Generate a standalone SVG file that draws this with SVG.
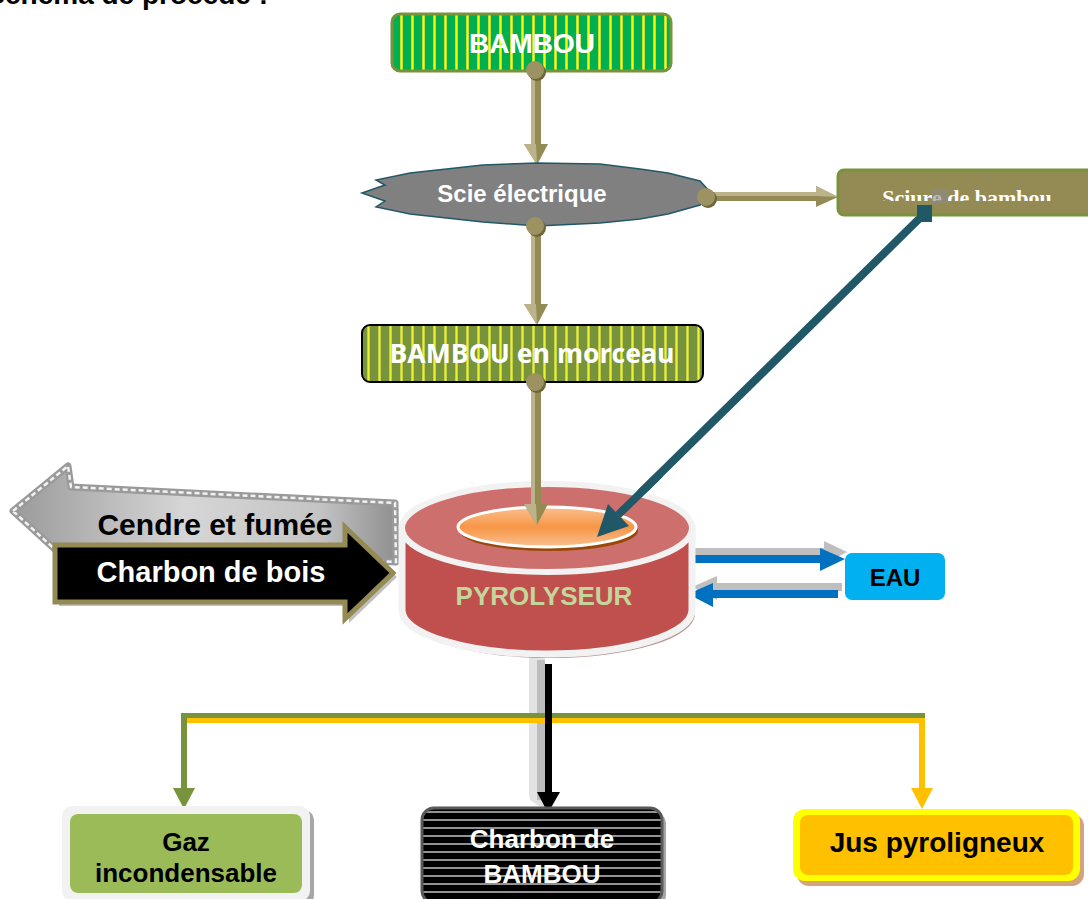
<svg xmlns="http://www.w3.org/2000/svg" width="1088" height="899" viewBox="0 0 1088 899">
  <defs>
    <style>
      .t { font-family: "Liberation Sans", Arial, sans-serif; font-weight: bold; text-anchor: middle; }
      .khaki { fill: #948a54; }
      .khaki-lt { fill: #bcb38a; }
      .knob { fill: #9c9262; }
      .knob-sh { fill: #6f6638; }
      .blue { fill: #0070c0; }
      .blue-sh { fill: #bfbfbf; }
    </style>
    <pattern id="stripeGreen" patternUnits="userSpaceOnUse" width="11" height="10">
      <rect width="11" height="10" fill="#00b050"/>
      <rect x="4" width="3" height="10" fill="#a6d33a"/>
      <rect x="4.7" width="1.6" height="10" fill="#ffff00"/>
    </pattern>
    <pattern id="stripeOlive" patternUnits="userSpaceOnUse" width="11" height="10">
      <rect width="11" height="10" fill="#77933c"/>
      <rect x="4" width="3" height="10" fill="#b2c244"/>
      <rect x="4.7" width="1.6" height="10" fill="#eef030"/>
    </pattern>
    <pattern id="stripeBlack" patternUnits="userSpaceOnUse" width="10" height="8">
      <rect width="10" height="8" fill="#000"/>
      <rect y="3" width="10" height="2" fill="#6e6e6e"/>
      <rect y="3.5" width="10" height="1" fill="#b5b5b5"/>
    </pattern>
    <linearGradient id="grayArrow" x1="0" y1="0" x2="1" y2="0">
      <stop offset="0" stop-color="#9a9a9a"/>
      <stop offset="0.45" stop-color="#d6d6d6"/>
      <stop offset="0.8" stop-color="#c4c4c4"/>
      <stop offset="1" stop-color="#8f8f8f"/>
    </linearGradient>
    <linearGradient id="orangeTop" x1="0" y1="0" x2="0" y2="1">
      <stop offset="0" stop-color="#fac090"/>
      <stop offset="0.5" stop-color="#f79646"/>
      <stop offset="1" stop-color="#fac090"/>
    </linearGradient>
    <clipPath id="sciureClip">
      <rect x="838" y="170" width="250" height="31"/>
    </clipPath>
  </defs>

  <rect width="1088" height="899" fill="#fff"/>

  <!-- heading, partly off the top edge -->
  <text x="268" y="4" font-family="Liberation Sans, Arial, sans-serif" font-weight="bold" font-size="28" text-anchor="end" fill="#000">Schéma de procédé :</text>

  <!-- connectors -->
  <g id="connectors">
    <!-- BAMBOU -> Scie -->
    <g>
      <rect x="531" y="72" width="10" height="74" class="khaki"/>
      <rect x="531" y="72" width="4" height="74" class="khaki-lt"/>
      <polygon points="524,144 548,144 537,165" class="khaki"/>
      <polygon points="524,144 536,144 537,165" class="khaki-lt"/>
    </g>
    <!-- Scie -> BAMBOU en morceau -->
    <g>
      <rect x="531" y="226" width="10" height="80" class="khaki"/>
      <rect x="531" y="226" width="4" height="80" class="khaki-lt"/>
      <polygon points="524,304 548,304 537,325" class="khaki"/>
      <polygon points="524,304 536,304 537,325" class="khaki-lt"/>
    </g>
    <!-- BAMBOU en morceau -> pyrolyseur -->
    <g>
      <rect x="531" y="382" width="10" height="124" class="khaki"/>
      <rect x="531" y="382" width="4" height="124" class="khaki-lt"/>
    </g>
    <!-- Scie -> Sciure -->
    <g>
      <rect x="706" y="192" width="112" height="9" class="khaki"/>
      <rect x="706" y="192" width="112" height="4" class="khaki-lt"/>
      <polygon points="816,186 816,207 838,197" class="khaki"/>
      <polygon points="816,186 816,196 838,197" class="khaki-lt"/>
    </g>
    <!-- Sciure -> pyrolyseur (with faint shadow) -->
    <g opacity="0.55" transform="translate(15,-15)">
      <polygon points="628,525 597,536 609,505" fill="#8a8a8a"/>
    </g>
    <line x1="925" y1="213" x2="618" y2="515" stroke="#215868" stroke-width="8"/>

    <!-- pyrolyseur <-> EAU -->
    <g transform="translate(4,-7)">
      <rect x="688" y="555" width="134" height="8" class="blue-sh"/>
      <polygon points="820,548 843,559 820,571" class="blue-sh"/>
      <rect x="712" y="590" width="126" height="8" class="blue-sh"/>
      <polygon points="713,583 688,594 713,607" class="blue-sh"/>
    </g>
    <rect x="688" y="555" width="134" height="8" class="blue"/>
    <polygon points="820,548 845,559 820,571" class="blue"/>
    <rect x="712" y="590" width="126" height="8" class="blue"/>
    <polygon points="713,583 688,594 713,607" class="blue"/>

    <!-- products: shaded drop under the pyrolyseur -->
    <polygon points="529,648 545,648 545,795 548,812 530,800 529,795" fill="#e3e3e3"/>
    <rect x="537" y="660" width="8" height="140" fill="#bdbdbd"/>
    <!-- green and yellow branches -->
    <rect x="182" y="713" width="743" height="5" fill="#77933c"/>
    <rect x="186" y="718" width="739" height="5" fill="#ffc000"/>
    <rect x="181" y="713" width="6" height="78" fill="#77933c"/>
    <polygon points="173,788 195,788 184,809" fill="#77933c"/>
    <rect x="919" y="718" width="6" height="73" fill="#ffc000"/>
    <polygon points="911,788 933,788 922,809" fill="#ffc000"/>
    <!-- black: charbon -->
    <rect x="545" y="664" width="7" height="130" fill="#000"/>
    <polygon points="537,792 560,792 548,813" fill="#000"/>
  </g>

  <!-- BAMBOU -->
  <g id="bambou">
    <rect x="392" y="14" width="279" height="57" rx="8" fill="url(#stripeGreen)" stroke="#77933c" stroke-width="3"/>
    <text x="532" y="53" class="t" font-size="28" fill="#fff">BAMBOU</text>
    <circle cx="537" cy="72" r="9" class="knob-sh"/>
    <circle cx="535" cy="70" r="9" class="knob"/>
  </g>

  <!-- Scie électrique -->
  <g id="scie">
    <polygon points="362,193 385,185 376,180 410,173 483,165 537,163 600,164 640,169 668,173 700,181 712,194 700,205 668,214 640,219 600,223 537,226 483,222 410,214 376,207 385,201" fill="#808080" stroke="#215868" stroke-width="1.5" stroke-linejoin="miter"/>
    <text x="522" y="202" class="t" font-size="24" fill="#fff">Scie électrique</text>
    <circle cx="537" cy="228" r="9" class="knob-sh"/>
    <circle cx="535" cy="226" r="9" class="knob"/>
    <circle cx="708" cy="199" r="9" class="knob-sh"/>
    <circle cx="706" cy="197" r="9" class="knob"/>
  </g>

  <!-- Sciure de bambou -->
  <g id="sciure">
    <rect x="838" y="170" width="262" height="45" rx="6" fill="#948a54" stroke="#77933c" stroke-width="3"/>
    <text x="967" y="205" clip-path="url(#sciureClip)" font-family="Liberation Serif, 'Times New Roman', serif" font-weight="bold" font-size="22" text-anchor="middle" fill="#fff">Sciure de bambou</text>
    <rect x="932" y="190" width="16" height="14" fill="#8a8a8a" opacity="0.6"/>
    <rect x="917" y="205" width="15" height="17" fill="#215868"/>
  </g>

  <!-- BAMBOU en morceau -->
  <g id="morceau">
    <rect x="362" y="325" width="341" height="57" rx="8" fill="url(#stripeOlive)" stroke="#000" stroke-width="2"/>
    <text x="532" y="363" font-family="'Open Sans', 'DejaVu Sans', sans-serif" font-weight="bold" font-size="26" text-anchor="middle" fill="#fff" textLength="285" lengthAdjust="spacingAndGlyphs">BAMBOU en morceau</text>
    <circle cx="537" cy="384" r="9" class="knob-sh"/>
    <circle cx="535" cy="382" r="9" class="knob"/>
  </g>

  <!-- Cendre et fumée (outgoing) -->
  <g id="cendre">
    <polygon points="13,511 68,466 71,487 395,503 396,562 70,548 60,554" fill="url(#grayArrow)" stroke="#9a9a9a" stroke-width="7" stroke-linejoin="round"/>
    <polygon points="13,511 68,466 71,487 395,503 396,562 70,548 60,554" fill="none" stroke="#f2f2f2" stroke-width="2.5" stroke-dasharray="5 3"/>
    <text x="215" y="535" class="t" font-size="30" fill="#000">Cendre et fumée</text>
  </g>

  <!-- Charbon de bois (incoming) -->
  <g id="charbon-bois">
    <polygon points="59,549 349,549 349,531 397,577 349,623 349,606 59,606" fill="#bfbfbf"/>
    <polygon points="55,545 345,545 345,527 393,573 345,619 345,602 55,602" fill="#000" stroke="#948a54" stroke-width="5" stroke-linejoin="miter"/>
    <text x="211" y="582" class="t" font-size="29" fill="#fff">Charbon de bois</text>
  </g>

  <!-- PYROLYSEUR -->
  <g id="pyrolyseur">
    <path d="M405,532 L405,614 A145,44 0 0 0 695,614 L695,532 Z" fill="#a57a7a" opacity="0.8"/>
    <path d="M402,528 L402,610 A145,44 0 0 0 692,610 L692,528 Z" fill="#c0504d" stroke="#f2f2f2" stroke-width="7"/>
    <ellipse cx="547" cy="528" rx="145" ry="44" fill="#cd6f6d" stroke="#f2f2f2" stroke-width="6"/>
    <ellipse cx="549" cy="531" rx="89" ry="20" fill="#984807"/>
    <ellipse cx="547" cy="527" rx="89" ry="20" fill="url(#orangeTop)" stroke="#fff" stroke-width="3"/>
    <text x="544" y="605" class="t" font-size="26" fill="#c3d69b">PYROLYSEUR</text>
  </g>

  <!-- arrow ends drawn over the pyrolyseur top -->
  <g id="connectors-top">
    <rect x="531" y="470" width="10" height="36" class="khaki"/>
    <rect x="531" y="470" width="4" height="36" class="khaki-lt"/>
    <polygon points="524,504 548,504 537,525" class="khaki"/>
    <polygon points="524,504 536,504 537,525" class="khaki-lt"/>
    <line x1="660" y1="474" x2="618" y2="515" stroke="#215868" stroke-width="8"/>
    <polygon points="629,526 597,537 608,504" fill="#215868"/>
  </g>

  <!-- EAU -->
  <g id="eau">
    <rect x="845" y="553" width="100" height="47" rx="7" fill="#00b0f0"/>
    <text x="895" y="586" class="t" font-size="24" fill="#000">EAU</text>
  </g>

  <!-- Gaz incondensable -->
  <g id="gaz">
    <rect x="66" y="810" width="248" height="95" rx="10" fill="#a6a6a6"/>
    <rect x="62" y="806" width="248" height="95" rx="10" fill="#f2f2f2"/>
    <rect x="70" y="814" width="232" height="79" rx="8" fill="#9bbb59"/>
    <text x="186" y="851" class="t" font-size="26" fill="#000">Gaz</text>
    <text x="186" y="882" class="t" font-size="26" fill="#000">incondensable</text>
  </g>

  <!-- Charbon de BAMBOU -->
  <g id="charbon-bambou">
    <rect x="426" y="812" width="240" height="95" rx="12" fill="#a6a6a6"/>
    <rect x="422" y="808" width="240" height="95" rx="12" fill="url(#stripeBlack)" stroke="#595959" stroke-width="3"/>
    <text x="542" y="848" class="t" font-size="26" fill="#fff">Charbon de</text>
    <text x="542" y="883" class="t" font-size="26" fill="#fff">BAMBOU</text>
  </g>

  <!-- Jus pyroligneux -->
  <g id="jus">
    <rect x="797" y="814" width="287" height="72" rx="12" fill="#d2a37c"/>
    <rect x="793" y="809" width="287" height="72" rx="12" fill="#ffff00"/>
    <rect x="800" y="815" width="273" height="60" rx="8" fill="#ffc000"/>
    <text x="937" y="852" class="t" font-size="28" fill="#000">Jus pyroligneux</text>
  </g>
</svg>
